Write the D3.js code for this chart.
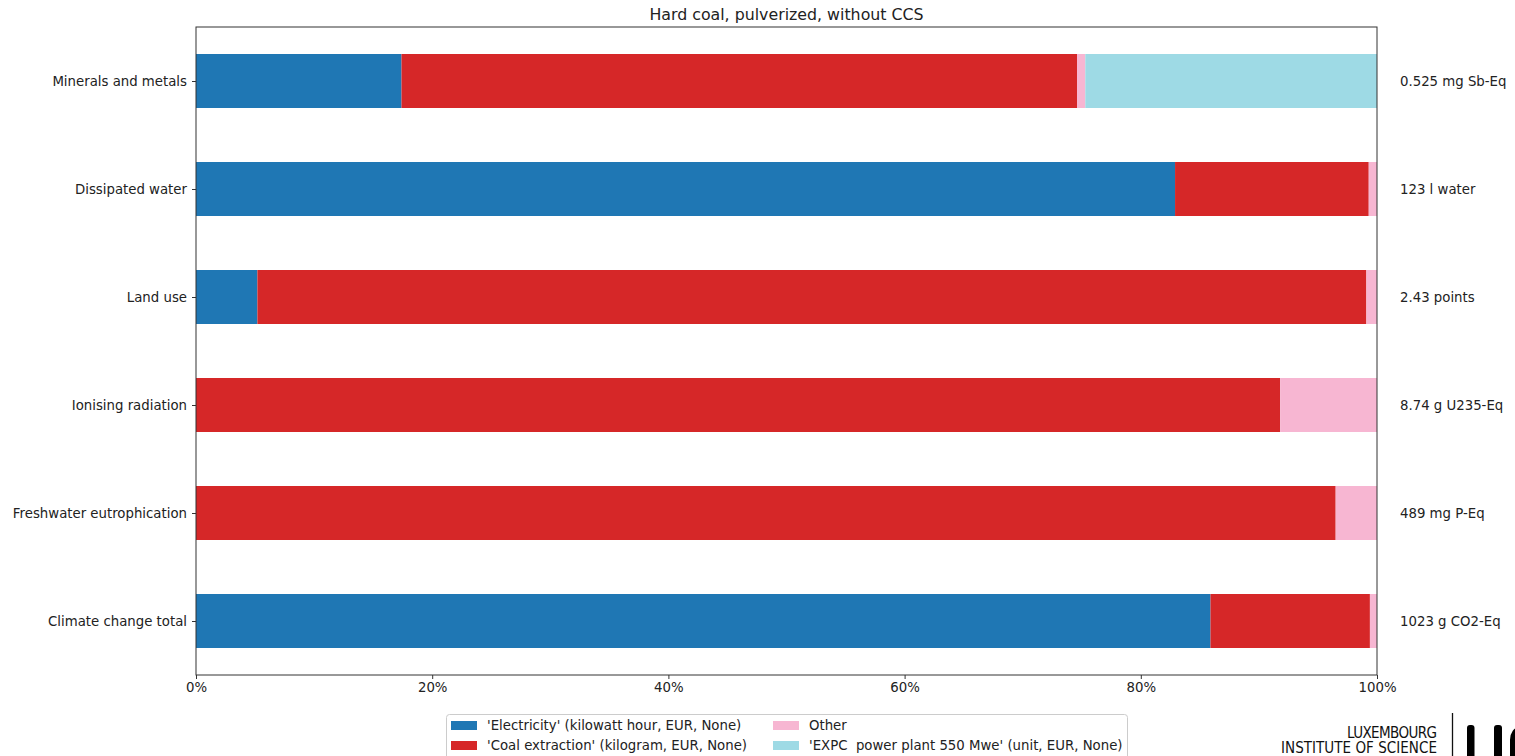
<!DOCTYPE html>
<html>
<head>
<meta charset="utf-8">
<script src="https://cdn.jsdelivr.net/npm/d3@7"></script>
<style>
  html, body { margin: 0; padding: 0; background: #fff; }
  svg { display: block; font-family: "DejaVu Sans", sans-serif; }
  .pre { white-space: pre; }
</style>
</head>
<body>
<svg id="chart" width="1515" height="756"></svg>
<script>
// Impact categories, drawn top to bottom
const categories = [
  "Minerals and metals",
  "Dissipated water",
  "Land use",
  "Ionising radiation",
  "Freshwater eutrophication",
  "Climate change total"
];

// Total impact per category, shown at the right of each bar
const totals = [
  "0.525 mg Sb-Eq",
  "123 l water",
  "2.43 points",
  "8.74 g U235-Eq",
  "489 mg P-Eq",
  "1023 g CO2-Eq"
];

// Contribution shares (%) per activity, in category order
const electricity    = [17.4, 82.9, 5.2, 0.0, 0.0, 85.9];
const coalExtraction = [57.2, 16.4, 93.9, 91.8, 96.5, 13.5];
const other          = [0.7, 0.7, 0.9, 8.2, 3.5, 0.6];
const powerPlant     = [24.7, 0.0, 0.0, 0.0, 0.0, 0.0];

const seriesNames = [
  "'Electricity' (kilowatt hour, EUR, None)",
  "'Coal extraction' (kilogram, EUR, None)",
  "Other",
  "'EXPC  power plant 550 Mwe' (unit, EUR, None)"
];
const seriesColors = ["#1f77b4", "#d62728", "#f7b6d2", "#9edae5"];
const seriesValues = [electricity, coalExtraction, other, powerPlant];

const xTicks = [0, 20, 40, 60, 80, 100];

const FS = 13.3;
const svg = d3.select("#chart");
const margin = { left: 196, right: 138, top: 27, bottom: 81 };
const W = 1515, H = 756;
const plotW = W - margin.left - margin.right;
const plotH = H - margin.top - margin.bottom;

const x = d3.scaleLinear().domain([0, 100]).range([margin.left, margin.left + plotW]);
// horizontal bar layout: unit spacing per category, bar height 0.5
const y = d3.scaleLinear().domain([-0.5, 5.5]).range([margin.top, margin.top + plotH]);
const barH = y(0.5) - y(0);

// Build stacked rows
const rows = categories.map((c, i) => {
  let acc = 0;
  return seriesValues.map((vals, s) => {
    const seg = { cat: i, s, x0: acc, x1: acc + vals[i] };
    acc += vals[i];
    return seg;
  });
}).flat().filter(d => d.x1 > d.x0);

const g = svg.append("g");
g.selectAll("rect.bar").data(rows).join("rect")
  .attr("class", "bar")
  .attr("x", d => x(d.x0))
  .attr("width", d => Math.min(x(d.x1), x(100)) - x(d.x0))
  .attr("y", d => y(d.cat) - barH / 2)
  .attr("height", barH)
  .attr("fill", d => seriesColors[d.s]);

// Frame
svg.append("rect")
  .attr("x", margin.left).attr("y", margin.top)
  .attr("width", plotW).attr("height", plotH)
  .attr("fill", "none").attr("stroke", "#333").attr("stroke-width", 1);

// X axis
const xAxis = d3.axisBottom(x).tickValues(xTicks).tickFormat(d => d + "%").tickSize(4).tickPadding(4);
const xg = svg.append("g").attr("transform", `translate(0,${margin.top + plotH})`).call(xAxis);
xg.select(".domain").remove();
xg.selectAll("text").attr("font-size", FS).attr("fill", "#222").attr("font-family", "DejaVu Sans, sans-serif");
xg.selectAll("line").attr("stroke", "#333");

// Y axis (category labels)
const yAxis = d3.axisLeft(y).tickValues(d3.range(categories.length)).tickFormat(i => categories[i]).tickSize(4).tickPadding(5);
const yg = svg.append("g").attr("transform", `translate(${margin.left},0)`).call(yAxis);
yg.select(".domain").remove();
yg.selectAll("text").attr("font-size", FS).attr("fill", "#222").attr("font-family", "DejaVu Sans, sans-serif");
yg.selectAll("line").attr("stroke", "#333");

// Totals at the right
svg.append("g").selectAll("text").data(totals).join("text")
  .attr("x", x(100) + 23)
  .attr("y", (d, i) => y(i))
  .attr("dy", "0.35em")
  .attr("font-size", FS).attr("fill", "#222")
  .text(d => d);

// Title
svg.append("text")
  .attr("x", margin.left + plotW / 2).attr("y", 19.5)
  .attr("text-anchor", "middle")
  .attr("font-size", 15.8).attr("fill", "#222")
  .text("Hard coal, pulverized, without CCS");

// Legend (two columns, two rows)
const legend = svg.append("g");
legend.append("rect")
  .attr("x", 446.5).attr("y", 714.5).attr("width", 681).attr("height", 48)
  .attr("rx", 3).attr("fill", "#fff").attr("stroke", "#ccc");
const colX = [451, 773];
const rowY = [725, 745];
seriesNames.forEach((name, s) => {
  const cx = colX[Math.floor(s / 2)];
  const cy = rowY[s % 2];
  legend.append("rect").attr("x", cx).attr("y", cy - 4).attr("width", 26).attr("height", 9)
    .attr("fill", seriesColors[s]);
  legend.append("text").attr("class", "pre").attr("x", cx + 36).attr("y", cy).attr("dy", "0.35em")
    .attr("font-size", FS).attr("fill", "#222").text(name);
});

// Institute logo, bottom right
const logo = svg.append("g");
const logoFont = "Liberation Sans Narrow, DejaVu Sans Condensed, sans-serif";
logo.append("text").attr("x", 1347).attr("y", 738)
  .attr("font-family", logoFont).attr("font-size", 15)
  .attr("textLength", 90).attr("lengthAdjust", "spacing").attr("fill", "#111").text("LUXEMBOURG");
logo.append("text").attr("x", 1281).attr("y", 753)
  .attr("font-family", logoFont).attr("font-size", 15)
  .attr("textLength", 156).attr("lengthAdjust", "spacing").attr("fill", "#111").text("INSTITUTE OF SCIENCE");
logo.append("line").attr("x1", 1452.5).attr("x2", 1452.5).attr("y1", 713).attr("y2", 756)
  .attr("stroke", "#111").attr("stroke-width", 1.3);
logo.append("rect").attr("x", 1467).attr("y", 725).attr("width", 7.5).attr("height", 40).attr("rx", 3).attr("fill", "#000");
logo.append("rect").attr("x", 1494).attr("y", 725).attr("width", 8).attr("height", 40).attr("rx", 3).attr("fill", "#000");
logo.append("path").attr("d", "M1520,726 A12,14 0 0 0 1510,740 L1510,756 L1517,756 L1517,742 A6,8 0 0 1 1520,734 Z").attr("fill", "#000");
</script>
</body>
</html>
